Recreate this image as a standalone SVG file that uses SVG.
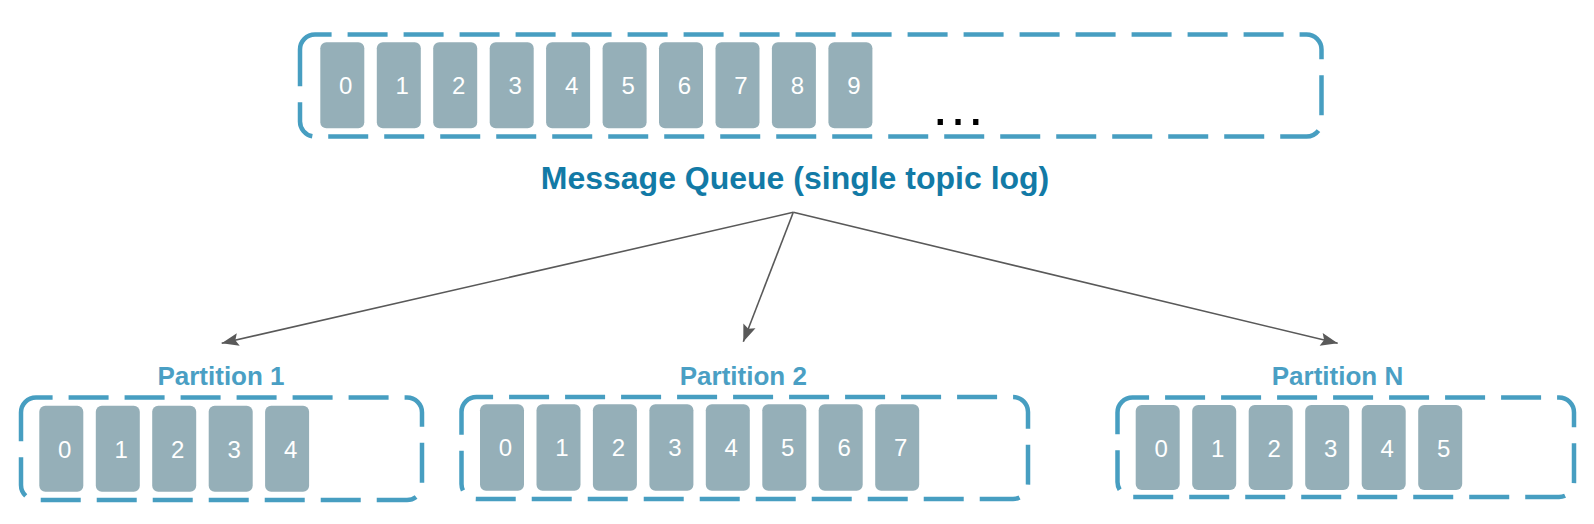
<svg xmlns="http://www.w3.org/2000/svg" width="1594" height="524" viewBox="0 0 1594 524">
<style>
.box{fill:none;stroke:#479ec1;stroke-width:4.5;stroke-dasharray:40 16}
.cell{fill:#95afb8}
.num{font-family:"Liberation Sans",Arial,sans-serif;font-size:24px;fill:#ffffff;text-anchor:middle}
.plabel{font-family:"Liberation Sans",Arial,sans-serif;font-size:26px;font-weight:bold;fill:#4a9fc4;text-anchor:middle}
.title{font-family:"Liberation Sans",Arial,sans-serif;font-size:32px;font-weight:bold;fill:#127aa6;text-anchor:middle}
.edge{fill:none;stroke:#595959;stroke-width:1.6}
</style>
<defs>
<marker id="arr" markerUnits="userSpaceOnUse" markerWidth="20" markerHeight="16" viewBox="0 0 20 16" refX="18" refY="8" orient="auto">
<path d="M1 1.5 L18 8 L1 14.5 L4 8 Z" fill="#595959"/>
</marker>
</defs>

<g id="queue">
<path class="box" d="M300 49.5 A15 15 0 0 1 315 34.5 H1306.5 A15 15 0 0 1 1321.5 49.5 V121.5 A15 15 0 0 1 1306.5 136.5 H315 A15 15 0 0 1 300 121.5 Z"/>
<rect class="cell" x="320.3" y="42.3" width="44" height="86" rx="6"/><text class="num" x="345.8" y="94.3">0</text>
<rect class="cell" x="376.8" y="42.3" width="44" height="86" rx="6"/><text class="num" x="402.3" y="94.3">1</text>
<rect class="cell" x="433.2" y="42.3" width="44" height="86" rx="6"/><text class="num" x="458.7" y="94.3">2</text>
<rect class="cell" x="489.7" y="42.3" width="44" height="86" rx="6"/><text class="num" x="515.2" y="94.3">3</text>
<rect class="cell" x="546.1" y="42.3" width="44" height="86" rx="6"/><text class="num" x="571.6" y="94.3">4</text>
<rect class="cell" x="602.6" y="42.3" width="44" height="86" rx="6"/><text class="num" x="628.1" y="94.3">5</text>
<rect class="cell" x="659" y="42.3" width="44" height="86" rx="6"/><text class="num" x="684.5" y="94.3">6</text>
<rect class="cell" x="715.5" y="42.3" width="44" height="86" rx="6"/><text class="num" x="741" y="94.3">7</text>
<rect class="cell" x="771.9" y="42.3" width="44" height="86" rx="6"/><text class="num" x="797.4" y="94.3">8</text>
<rect class="cell" x="828.4" y="42.3" width="44" height="86" rx="6"/><text class="num" x="853.9" y="94.3">9</text>
<text x="958" y="124.8" font-family="Liberation Sans, Arial, sans-serif" font-size="56" fill="#000000" text-anchor="middle">…</text>
<text class="title" x="795" y="189.3">Message Queue (single topic log)</text>
</g>

<g id="connectors">
<line class="edge" x1="793.3" y1="212.3" x2="221.7" y2="343.3" marker-end="url(#arr)"/>
<line class="edge" x1="793.3" y1="212.3" x2="743.3" y2="341.7" marker-end="url(#arr)"/>
<line class="edge" x1="793.3" y1="212.3" x2="1337.7" y2="343.3" marker-end="url(#arr)"/>
</g>

<g id="partition1">
<text class="plabel" x="221" y="385.3">Partition 1</text>
<path class="box" d="M21 412.5 A15 15 0 0 1 36 397.5 H407 A15 15 0 0 1 422 412.5 V485 A15 15 0 0 1 407 500 H36 A15 15 0 0 1 21 485 Z"/>
<rect class="cell" x="39.3" y="405.7" width="44" height="86" rx="6"/><text class="num" x="64.8" y="457.5">0</text>
<rect class="cell" x="95.8" y="405.7" width="44" height="86" rx="6"/><text class="num" x="121.3" y="457.5">1</text>
<rect class="cell" x="152.2" y="405.7" width="44" height="86" rx="6"/><text class="num" x="177.7" y="457.5">2</text>
<rect class="cell" x="208.7" y="405.7" width="44" height="86" rx="6"/><text class="num" x="234.2" y="457.5">3</text>
<rect class="cell" x="265.1" y="405.7" width="44" height="86" rx="6"/><text class="num" x="290.6" y="457.5">4</text>
</g>

<g id="partition2">
<text class="plabel" x="743.3" y="385.3">Partition 2</text>
<path class="box" d="M461.5 412 A15 15 0 0 1 476.5 397 H1013 A15 15 0 0 1 1028 412 V484 A15 15 0 0 1 1013 499 H476.5 A15 15 0 0 1 461.5 484 Z"/>
<rect class="cell" x="480" y="404.3" width="44" height="86.5" rx="6"/><text class="num" x="505.5" y="456.3">0</text>
<rect class="cell" x="536.5" y="404.3" width="44" height="86.5" rx="6"/><text class="num" x="562" y="456.3">1</text>
<rect class="cell" x="592.9" y="404.3" width="44" height="86.5" rx="6"/><text class="num" x="618.4" y="456.3">2</text>
<rect class="cell" x="649.4" y="404.3" width="44" height="86.5" rx="6"/><text class="num" x="674.9" y="456.3">3</text>
<rect class="cell" x="705.8" y="404.3" width="44" height="86.5" rx="6"/><text class="num" x="731.3" y="456.3">4</text>
<rect class="cell" x="762.3" y="404.3" width="44" height="86.5" rx="6"/><text class="num" x="787.8" y="456.3">5</text>
<rect class="cell" x="818.7" y="404.3" width="44" height="86.5" rx="6"/><text class="num" x="844.2" y="456.3">6</text>
<rect class="cell" x="875.2" y="404.3" width="44" height="86.5" rx="6"/><text class="num" x="900.7" y="456.3">7</text>
</g>

<g id="partitionN">
<text class="plabel" x="1337.5" y="385.3">Partition N</text>
<path class="box" d="M1117.5 412.5 A15 15 0 0 1 1132.5 397.5 H1559 A15 15 0 0 1 1574 412.5 V482 A15 15 0 0 1 1559 497 H1132.5 A15 15 0 0 1 1117.5 482 Z"/>
<rect class="cell" x="1135.7" y="405" width="44" height="85" rx="6"/><text class="num" x="1161.2" y="456.5">0</text>
<rect class="cell" x="1192.2" y="405" width="44" height="85" rx="6"/><text class="num" x="1217.7" y="456.5">1</text>
<rect class="cell" x="1248.7" y="405" width="44" height="85" rx="6"/><text class="num" x="1274.2" y="456.5">2</text>
<rect class="cell" x="1305.2" y="405" width="44" height="85" rx="6"/><text class="num" x="1330.7" y="456.5">3</text>
<rect class="cell" x="1361.7" y="405" width="44" height="85" rx="6"/><text class="num" x="1387.2" y="456.5">4</text>
<rect class="cell" x="1418.2" y="405" width="44" height="85" rx="6"/><text class="num" x="1443.7" y="456.5">5</text>
</g>
</svg>
